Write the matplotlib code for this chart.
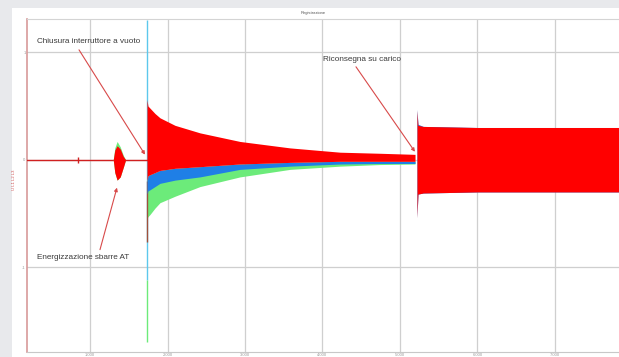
import matplotlib.pyplot as plt
from matplotlib.patches import Rectangle

# time axis in seconds, values in per-unit of the recorder scale
t_pre = [0.19, 1.735]
v_pre = [0.0, 0.0]
marker_t = [0.85]

# energizzazione sbarre AT (small burst)
t_burst = [1.30, 1.32, 1.35, 1.39, 1.43, 1.46]
burst_green_up = [0.0, 0.11, 0.17, 0.12, 0.04, 0.0]
burst_red_up = [0.0, 0.09, 0.13, 0.10, 0.03, 0.0]
burst_red_lo = [0.0, -0.12, -0.19, -0.16, -0.07, 0.0]

# inrush after closing, envelopes
t_decay = [1.735, 1.748, 1.774, 1.839, 1.903, 2.097, 2.419, 2.935, 3.581, 4.226, 4.742, 5.194]
red_up = [0.56, 0.50, 0.48, 0.43, 0.39, 0.32, 0.25, 0.17, 0.11, 0.07, 0.06, 0.05]
red_lo = [-0.20, -0.15, -0.14, -0.12, -0.10, -0.08, -0.065, -0.04, -0.025, -0.015, -0.015, -0.015]
blue_lo = [-0.32, -0.29, -0.28, -0.25, -0.22, -0.19, -0.16, -0.09, -0.06, -0.04, -0.035, -0.035]
green_lo = [-0.55, -0.53, -0.51, -0.45, -0.40, -0.34, -0.25, -0.16, -0.09, -0.06, -0.045, -0.04]

# first-cycle spikes at closing
spike_t = 1.735
spike_cyan = (-1.12, 1.30)
spike_green = (-1.70, -1.12)
spike_dark = (-0.77, -0.20)

# riconsegna su carico (load)
t_load = [5.219, 5.232, 5.30, 6.00, 7.00, 7.83]
load_up = [0.46, 0.32, 0.31, 0.30, 0.30, 0.30]
load_lo = [-0.54, -0.32, -0.31, -0.30, -0.30, -0.30]
load_blue_up = [0.47, 0.33, 0.31, 0.30, 0.30, 0.30]

grid_t = [1, 2, 3, 4, 5, 6, 7]
grid_v = [-1, 0, 1]
tick_labels = ['1.000', '2.000', '3.000', '4.000', '5.000', '6.000', '7.000']

RED = '#ff0000'
BLUE = '#1f7fe6'
GREEN = '#6ceb7a'
CYAN = '#5cc8ec'
TXT = '#3a3a3a'
ARR = '#d84a4a'

plt.rcParams['font.family'] = ['Liberation Sans', 'DejaVu Sans']

fig = plt.figure(figsize=(6.19, 3.57), dpi=100)
fig.patch.set_facecolor('#e8e9ec')
fig.patches.append(Rectangle((12 / 619, 0), 1, 349 / 357, transform=fig.transFigure,
                             facecolor='white', edgecolor='none', zorder=-10))

ax = fig.add_axes([27 / 619, 5 / 357, 592 / 619, 333 / 357])
ax.set_zorder(1)
ax.set_facecolor('white')
ax.set_xlim(0.187, 7.826)
ax.set_ylim(-1.79, 1.31)

ax.set_xticks(grid_t)
ax.set_xticklabels(tick_labels, fontsize=3, color='#9a9a9a')
ax.set_yticks(grid_v)
ax.set_yticklabels(['-1', '0', '1'], fontsize=3, color='#9a9a9a')
ax.tick_params(length=0, pad=1)
ax.grid(True, color='#cfcfcf', linewidth=0.9)
ax.set_axisbelow(True)
ax.spines['right'].set_visible(False)
ax.spines['top'].set_color('#d4d4d4')
ax.spines['bottom'].set_color('#c8c8c8')
ax.spines['left'].set_color('#d89a9a')
ax.spines['left'].set_linewidth(1.2)

# pre-closing zero line
ax.plot(t_pre, v_pre, color='#d02020', linewidth=1.0, zorder=3)
ax.plot(marker_t, [0], marker='|', color='#d02020', markersize=4, zorder=3)

# energizzazione
ax.fill_between(t_burst, burst_red_lo, burst_green_up, color=GREEN, linewidth=0, zorder=3)
ax.fill_between(t_burst, burst_red_lo, burst_red_up, color=RED, linewidth=0, zorder=4)

# inrush decay
ax.fill_between(t_decay, green_lo, red_lo, color=GREEN, linewidth=0, zorder=3)
ax.fill_between(t_decay, blue_lo, red_lo, color=BLUE, linewidth=0, zorder=4)
ax.fill_between(t_decay, red_lo, red_up, color=RED, linewidth=0, zorder=5)

# closing spikes
ax.vlines(spike_t, *spike_cyan, color=CYAN, linewidth=1.0, zorder=2)
ax.vlines(spike_t, *spike_green, color=GREEN, linewidth=1.0, zorder=3)
ax.vlines(spike_t, *spike_dark, color='#a0503a', linewidth=1.0, zorder=3)

# load
ax.fill_between(t_load, load_lo, load_blue_up, color=BLUE, linewidth=0, zorder=4)
ax.fill_between(t_load, load_lo, load_up, color=RED, linewidth=0, zorder=5)

arrow = dict(arrowstyle='-|>', color=ARR, lw=0.8, mutation_scale=5, shrinkA=0, shrinkB=0)
ax.annotate('', xy=(1.71, 0.047), xytext=(0.858, 1.023), arrowprops=arrow, zorder=6)
ax.text(0.316, 1.098, 'Chiusura interruttore a vuoto', fontsize=5.9, color=TXT,
        va='center', ha='left', zorder=7)
ax.annotate('', xy=(1.348, -0.26), xytext=(1.129, -0.837), arrowprops=arrow, zorder=6)
ax.text(0.316, -0.91, 'Energizzazione sbarre AT', fontsize=5.9, color=TXT,
        va='center', ha='left', zorder=7)
ax.annotate('', xy=(5.193, 0.074), xytext=(4.432, 0.865), arrowprops=arrow, zorder=6)
ax.text(4.006, 0.93, 'Riconsegna su carico', fontsize=5.9, color=TXT,
        va='center', ha='left', zorder=7)

fig.text(313 / 619, 1 - 13 / 357, 'Registrazione', fontsize=3, color='#555555',
         ha='center', va='center')
fig.text(14 / 619, 1 - 180 / 357, 'U L1 L2 L3', fontsize=3, color='#d05050',
         rotation=90, ha='center', va='center')

fig.savefig('out.png', dpi=100, facecolor=fig.get_facecolor())
